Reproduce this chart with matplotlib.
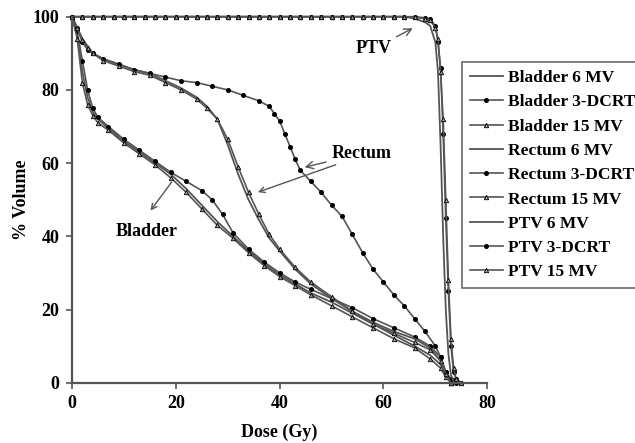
import matplotlib
matplotlib.use("Agg")
import matplotlib.pyplot as plt

# ---- data ----
bladder_6_dose = [0, 1, 2, 3, 4, 5, 7, 10, 13, 16, 19, 22, 25, 28, 31, 34, 37, 40, 43, 46, 50, 54, 58, 62, 66, 69, 71, 72, 73]
bladder_6_vol = [100, 95, 85, 78, 74, 72, 69.5, 66, 63, 60, 57, 53, 48.5, 44, 40, 36, 32.5, 29.5, 27, 24.5, 22, 19, 16, 13, 10, 7.5, 5, 2, 0]

bladder_3d_dose = [0, 1, 2, 3, 4, 5, 7, 10, 13, 16, 19, 22, 25, 27, 29, 31, 34, 37, 40, 43, 46, 50, 54, 58, 62, 66, 69, 71, 72, 73]
bladder_3d_vol = [100, 96, 88, 80, 75, 72.5, 70, 66.5, 63.5, 60.5, 57.5, 55, 52.5, 50, 46, 41, 36.5, 33, 30, 27.5, 25.5, 23, 20.5, 17.5, 15, 12.5, 10, 7, 3, 0]

bladder_15_dose = [0, 1, 2, 3, 4, 5, 7, 10, 13, 16, 19, 22, 25, 28, 31, 34, 37, 40, 43, 46, 50, 54, 58, 62, 66, 69, 71, 72, 73]
bladder_15_vol = [100, 94, 82, 76, 73, 71, 69, 65.5, 62.5, 59.5, 56, 52, 47.5, 43, 39.5, 35.5, 32, 29, 26.5, 24, 21, 18, 15, 12, 9.5, 6.5, 4, 1.5, 0]

rectum_6_dose = [0, 1, 2, 3, 4, 6, 9, 12, 15, 18, 21, 24, 26, 28, 30, 32, 34, 36, 38, 40, 43, 46, 50, 54, 58, 62, 66, 69, 71, 72, 73]
rectum_6_vol = [100, 97, 94, 92, 90, 88.5, 87, 85.5, 84.5, 82.5, 80.5, 78, 75.5, 72, 65, 57, 50, 44.5, 39.5, 36, 31, 27, 23, 19.5, 16.5, 14, 12, 9.5, 6, 2, 0]

rectum_3d_dose = [0, 1, 2, 3, 4, 6, 9, 12, 15, 18, 21, 24, 27, 30, 33, 36, 38, 39, 40, 41, 42, 43, 44, 46, 48, 50, 52, 54, 56, 58, 60, 62, 64, 66, 68, 70, 71, 72, 73, 74]
rectum_3d_vol = [100, 97, 93, 91, 90, 88.5, 87, 85.5, 84.5, 83.5, 82.5, 82, 81, 80, 78.5, 77, 75.5, 73.5, 71.5, 68, 64.5, 61, 58, 55, 52, 48.5, 45.5, 40.5, 35.5, 31, 27.5, 24, 21, 17.5, 14, 10, 7, 3, 1, 0]

rectum_15_dose = [0, 1, 2, 3, 4, 6, 9, 12, 15, 18, 21, 24, 26, 28, 30, 32, 34, 36, 38, 40, 43, 46, 50, 54, 58, 62, 66, 69, 71, 72, 73]
rectum_15_vol = [100, 97, 93.5, 91.5, 90, 88, 86.5, 85, 84, 82, 80, 77.5, 75, 72, 66.5, 59, 52, 46, 40.5, 36.5, 31.5, 27.5, 23.5, 19.5, 16, 13.5, 11, 9, 6, 2.5, 0]

ptv_dose = [0, 2, 4, 6, 8, 10, 12, 14, 16, 18, 20, 22, 24, 26, 28, 30, 32, 34, 36, 38, 40, 42, 44, 46, 48, 50, 52, 54, 56, 58, 60, 62, 64, 66, 68, 69, 70, 70.5, 71, 71.5, 72, 72.5, 73, 73.5, 74, 75]
ptv_6_vol = [100, 100, 100, 100, 100, 100, 100, 100, 100, 100, 100, 100, 100, 100, 100, 100, 100, 100, 100, 100, 100, 100, 100, 100, 100, 100, 100, 100, 100, 100, 100, 100, 100, 99.5, 98.5, 97.5, 93, 85, 65, 40, 20, 8, 2, 0.5, 0, 0]
ptv_3d_vol = [100, 100, 100, 100, 100, 100, 100, 100, 100, 100, 100, 100, 100, 100, 100, 100, 100, 100, 100, 100, 100, 100, 100, 100, 100, 100, 100, 100, 100, 100, 100, 100, 100, 100, 99.7, 99.3, 97.5, 93, 86, 68, 45, 25, 10, 3, 1, 0]
ptv_15_vol = [100, 100, 100, 100, 100, 100, 100, 100, 100, 100, 100, 100, 100, 100, 100, 100, 100, 100, 100, 100, 100, 100, 100, 100, 100, 100, 100, 100, 100, 100, 100, 100, 100, 99.8, 99.5, 99, 97, 94, 85, 72, 50, 28, 12, 4, 1, 0]

labels = ["Bladder 6 MV", "Bladder 3-DCRT", "Bladder 15 MV",
          "Rectum 6 MV", "Rectum 3-DCRT", "Rectum 15 MV",
          "PTV 6 MV", "PTV 3-DCRT", "PTV 15 MV"]

x_ticks = [0, 20, 40, 60, 80]
y_ticks = [0, 20, 40, 60, 80, 100]

# ---- style ----
SERIF = ["Liberation Serif", "DejaVu Serif"]
plt.rcParams["font.family"] = SERIF
plt.rcParams["font.weight"] = "bold"

fig = plt.figure(figsize=(6.35, 4.43), dpi=100)
ax = fig.add_axes([72 / 635, 1 - 382.7 / 443, (487.3 - 72) / 635, (382.7 - 16.7) / 443])

LC = "#555555"
styles = {
    "6": dict(color=LC, lw=1.3),
    "3d": dict(color=LC, lw=1.2, marker="o", ms=2.6, mfc="black", mec="black"),
    "15": dict(color=LC, lw=1.2, marker="^", ms=3.2, mfc="#999999", mec="black", mew=0.6),
}

series = [
    (bladder_6_dose, bladder_6_vol, "6"),
    (bladder_3d_dose, bladder_3d_vol, "3d"),
    (bladder_15_dose, bladder_15_vol, "15"),
    (rectum_6_dose, rectum_6_vol, "6"),
    (rectum_3d_dose, rectum_3d_vol, "3d"),
    (rectum_15_dose, rectum_15_vol, "15"),
    (ptv_dose, ptv_6_vol, "6"),
    (ptv_dose, ptv_3d_vol, "3d"),
    (ptv_dose, ptv_15_vol, "15"),
]
handles = []
for (xd, yd, st), lab in zip(series, labels):
    h, = ax.plot(xd, yd, label=lab, clip_on=False, **styles[st])
    handles.append(h)

ax.set_xlim(0, 80)
ax.set_ylim(0, 100)
ax.set_xticks(x_ticks)
ax.set_yticks(y_ticks)
for s in ["top", "right"]:
    ax.spines[s].set_visible(False)
for s in ["left", "bottom"]:
    ax.spines[s].set_color("#555555")
    ax.spines[s].set_linewidth(1.6)
ax.tick_params(axis="both", direction="out", length=4, width=1.2, color="#555555",
               labelsize=13, pad=5)
for t in ax.get_xticklabels() + ax.get_yticklabels():
    t.set_fontweight("bold")

ax.set_xlabel("Dose (Gy)", fontsize=13, fontweight="bold", labelpad=8)
ax.set_ylabel("% Volume", fontsize=13, fontweight="bold", labelpad=2)

arrow = dict(arrowstyle="->", color="#555555", lw=1.0)
ax.annotate("PTV", xy=(66.1, 97.2), xytext=(61.5, 91.2), fontsize=13, fontweight="bold",
            ha="right", va="center", arrowprops=arrow)
ax.annotate("Rectum", xy=(44.3, 58.7), xytext=(50.0, 60.3), fontsize=13, fontweight="bold",
            ha="left", va="bottom", arrowprops=arrow)
ax.annotate("", xy=(35.3, 51.8), xytext=(51.3, 59.8), arrowprops=arrow)
ax.annotate("", xy=(14.8, 46.4), xytext=(19.5, 55.4), arrowprops=arrow)
ax.text(8.5, 41.2, "Bladder", fontsize=13, fontweight="bold", ha="left", va="center")

leg = fig.legend(handles=handles, loc="upper left", bbox_to_anchor=(462 / 635, 1 - 62 / 443),
                 frameon=True, fancybox=False, edgecolor="#444444",
                 prop={"family": SERIF, "weight": "bold", "size": 12.5},
                 handlelength=1.9, handletextpad=0.3, labelspacing=0.47,
                 borderpad=0.45, borderaxespad=0)
leg.get_frame().set_linewidth(1.2)

fig.savefig("out.png", dpi=100)
